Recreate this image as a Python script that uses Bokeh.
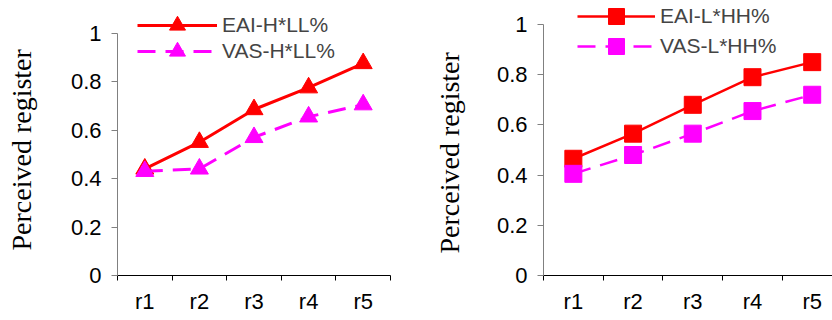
from bokeh.plotting import figure
from bokeh.models import Range1d, FixedTicker, Legend, LegendItem, ColumnDataSource, Title
from bokeh.layouts import row
from bokeh.embed import file_html
from bokeh.resources import INLINE

categories = ["r1", "r2", "r3", "r4", "r5"]
eai_hll = [0.44, 0.55, 0.685, 0.775, 0.875]
vas_hll = [0.43, 0.44, 0.57, 0.655, 0.705]
eai_lhh = [0.465, 0.565, 0.68, 0.79, 0.85]
vas_lhh = [0.405, 0.48, 0.565, 0.655, 0.72]
y_ticks = [0, 0.2, 0.4, 0.6, 0.8, 1]
y_tick_labels = ["0", "0.2", "0.4", "0.6", "0.8", "1"]
y_title = "Perceived register"

SANS = "Liberation Sans"
SERIF = "Liberation Serif"


def make_legend(label, renderers, loc, glyph_w):
    return Legend(items=[LegendItem(label=label, renderers=renderers)],
                  location=loc, padding=0, margin=0, spacing=0,
                  border_line_color=None, background_fill_alpha=0,
                  glyph_width=glyph_w, glyph_height=40, label_standoff=5,
                  label_text_font=SANS, label_text_font_size="21px", label_height=20)


def panel(width, s1, s2, n1, n2, marker, msize, lw, x_end, y_end, borders,
          loc1, loc2, glyph_w, spacer_size, title_offset, x_standoff):
    bl, br, bt, bb = borders
    p = figure(width=width, height=320, output_backend="svg", toolbar_location=None,
               x_range=Range1d(0, x_end), y_range=Range1d(0, y_end),
               min_border_left=bl, min_border_right=br, min_border_top=bt, min_border_bottom=bb)
    p.outline_line_color = None
    p.xgrid.visible = False
    p.ygrid.visible = False
    p.background_fill_color = "white"
    p.border_fill_color = "white"

    xs = [i + 0.5 for i in range(len(categories))]
    src = ColumnDataSource(dict(x=xs, a=s1, b=s2))

    r1l = p.line("x", "a", source=src, line_color="#FF0000", line_width=lw)
    r1m = p.scatter("x", "a", source=src, marker=marker, size=msize,
                    fill_color="#FF0000", line_color="#FF0000")
    r2l = p.line("x", "b", source=src, line_color="#FF00FF", line_width=lw, line_dash="18 10")
    r2m = p.scatter("x", "b", source=src, marker=marker, size=msize,
                    fill_color="#FF00FF", line_color="#FF00FF")

    xa = p.xaxis[0]
    xa.ticker = FixedTicker(ticks=xs, minor_ticks=[float(i) for i in range(len(categories) + 1)])
    xa.major_label_overrides = {x: c for x, c in zip(xs, categories)}
    xa.major_tick_line_color = None
    xa.major_tick_out = 0
    xa.major_tick_in = 0
    xa.minor_tick_line_color = "black"
    xa.minor_tick_out = 5
    xa.minor_tick_in = 0
    xa.axis_line_color = "black"
    xa.axis_label_standoff = 0
    xa.major_label_text_font = SANS
    xa.major_label_text_font_size = "22px"
    xa.major_label_text_color = "black"
    xa.major_label_text_line_height = 1.0
    xa.major_label_standoff = x_standoff

    ya = p.yaxis[0]
    ya.bounds = (0, 1)
    ya.ticker = FixedTicker(ticks=y_ticks)
    ya.major_label_overrides = {t: l for t, l in zip(y_ticks, y_tick_labels)}
    ya.minor_tick_line_color = None
    ya.major_tick_out = 6
    ya.major_tick_in = 0
    ya.axis_line_color = "#808080"
    ya.major_tick_line_color = "#808080"
    ya.major_label_text_font = SANS
    ya.major_label_text_font_size = "22px"
    ya.major_label_text_color = "black"
    ya.major_label_standoff = 10

    spacer = Title(text=" ", text_font_size=spacer_size, standoff=0)
    p.add_layout(spacer, "left")
    t = Title(text=y_title, align="left", vertical_align="top", text_font=SERIF,
              text_font_style="normal", text_font_size="28px", text_color="black",
              standoff=10, offset=title_offset)
    p.add_layout(t, "left")

    p.add_layout(make_legend(n1, [r1l, r1m], loc1, glyph_w), "center")
    p.add_layout(make_legend(n2, [r2l, r2m], loc2, glyph_w), "center")
    return p


left = panel(420, eai_hll, vas_hll, "EAI-H*LL%", "VAS-H*LL%", "triangle", 18, 3,
             5, 1.1347, (115, 30, 0, 42), (20, 230), (20, 204), 80, "20px", 25, 8)
right = panel(412, eai_lhh, vas_lhh, "EAI-L*HH%", "VAS-L*HH%", "square", 17, 2.5,
              4.84, 1.0955, (123, 0, 0, 45), (34, 239), (34, 209), 78, "18px", 22, 8)

layout = row(left, right, spacing=0)
open("out.html", "w").write(file_html(layout, INLINE))
